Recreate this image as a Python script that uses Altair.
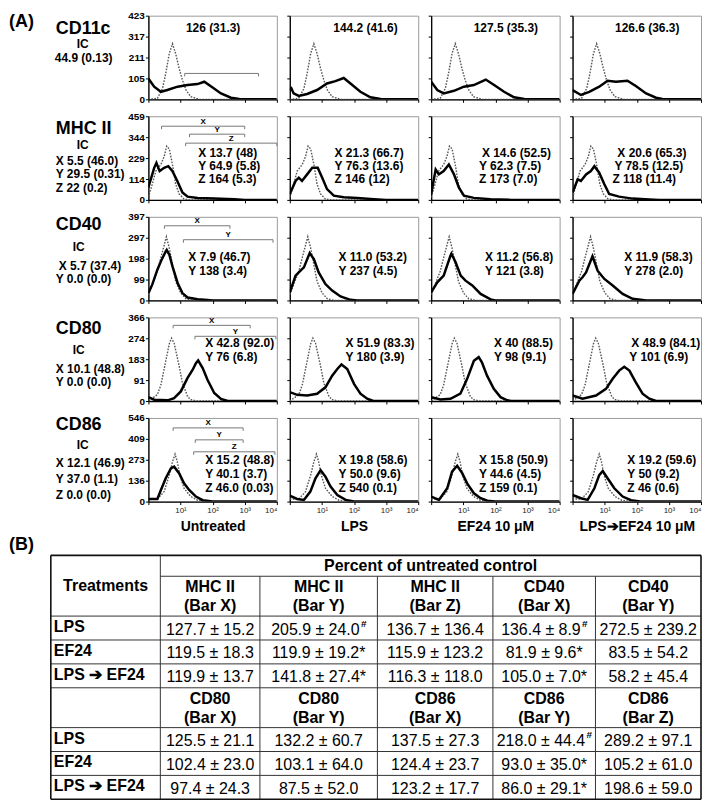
import altair as alt
import pandas as pd

# ---------------- data ----------------
markers = ["CD11c", "MHC II", "CD40", "CD80", "CD86"]
treatments = ["Untreated", "LPS", "EF24 10 μM", "LPS➔EF24 10 μM"]
y_max = [423, 459, 397, 366, 546]
y_tick_values = [
    [0, 105, 211, 317, 423],
    [0, 114, 229, 344, 459],
    [0, 99, 198, 297, 397],
    [0, 91, 183, 274, 366],
    [0, 136, 273, 409, 546],
]
ic_stats = [
    ["44.9 (0.13)"],
    ["X 5.5 (46.0)", "Y 29.5 (0.31)", "Z 22 (0.2)"],
    ["X 5.7 (37.4)", "Y 0.0 (0.0)"],
    ["X 10.1 (48.8)", "Y 0.0 (0.0)"],
    ["X 12.1 (46.9)", "Y 37.0 (1.1)", "Z 0.0 (0.0)"],
]
panel_stats = [
    [["126 (31.3)"], ["144.2 (41.6)"], ["127.5 (35.3)"], ["126.6 (36.3)"]],
    [["X 13.7 (48)", "Y 64.9 (5.8)", "Z 164 (5.3)"],
     ["X 21.3 (66.7)", "Y 76.3 (13.6)", "Z  146 (12)"],
     ["X 14.6 (52.5)", "Y 62.3 (7.5)", "Z  173 (7.0)"],
     ["X 20.6 (65.3)", "Y 78.5 (12.5)", "Z 118 (11.4)"]],
    [["X 7.9 (46.7)", "Y 138 (3.4)"], ["X 11.0 (53.2)", "Y 237 (4.5)"],
     ["X 11.2 (56.8)", "Y 121 (3.8)"], ["X 11.9 (58.3)", "Y 278 (2.0)"]],
    [["X 42.8 (92.0)", "Y 76 (6.8)"], ["X 51.9 (83.3)", "Y 180 (3.9)"],
     ["X 40 (88.5)", "Y 98 (9.1)"], ["X 48.9 (84.1)", "Y 101 (6.9)"]],
    [["X 15.2 (48.8)", "Y 40.1 (3.7)", "Z 46.0 (0.03)"],
     ["X 19.8 (58.6)", "Y 50.0 (9.6)", "Z 540 (0.1)"],
     ["X 15.8 (50.9)", "Y 44.6 (4.5)", "Z 159 (0.1)"],
     ["X 19.2 (59.6)", "Y 50 (9.2)", "Z 46 (0.6)"]],
]

# histograms: (log10 fluorescence, cell count)
ic_curves = [
    [(0, 0), (0.28, 5), (0.44, 55), (0.54, 130), (0.65, 231), (0.75, 281), (0.85, 231),
     (0.96, 155), (1.06, 97), (1.17, 47), (1.32, 13), (1.6, 0), (4, 0)],
    [(0, 14), (0.12, 86), (0.23, 158), (0.39, 194), (0.49, 238), (0.57, 295), (0.65, 280),
     (0.75, 194), (0.85, 86), (0.96, 32), (1.11, 5), (1.3, 0), (4, 0)],
    [(0, 27), (0.28, 138), (0.44, 233), (0.56, 302), (0.65, 249), (0.75, 170), (0.85, 90),
     (1.01, 35), (1.17, 8), (1.4, 0), (4, 0)],
    [(0, 0), (0.28, 28), (0.39, 71), (0.55, 181), (0.65, 250), (0.72, 275), (0.8, 254),
     (0.96, 152), (1.06, 79), (1.22, 20), (1.32, 6), (1.5, 0), (4, 0)],
    [(0, 17), (0.28, 17), (0.49, 65), (0.65, 173), (0.75, 260), (0.83, 310), (0.9, 260),
     (0.98, 173), (1.11, 87), (1.32, 33), (1.53, 9), (1.8, 0), (4, 0)],
]
sample_curves = [
    [
        [(0, 105), (0.18, 64), (0.39, 38), (0.59, 47), (0.91, 64), (1.22, 72), (1.53, 77), (1.74, 89),
         (2.0, 60), (2.26, 30), (2.57, 8), (2.83, 2), (3.0, 0), (4, 0)],
        [(0, 47), (0.05, 55), (0.12, 30), (0.28, 17), (0.54, 27), (0.85, 47), (1.16, 80), (1.42, 92),
         (1.68, 108), (1.89, 80), (2.2, 38), (2.51, 10), (2.83, 2), (3.0, 0), (4, 0)],
        [(0, 89), (0.19, 47), (0.39, 30), (0.71, 43), (1.02, 64), (1.33, 72), (1.7, 100), (1.96, 72),
         (2.27, 38), (2.58, 10), (2.9, 2), (3.1, 0), (4, 0)],
        [(0, 47), (0.26, 22), (0.52, 38), (0.83, 64), (1.09, 94), (1.35, 89), (1.71, 94), (1.97, 67),
         (2.29, 30), (2.6, 8), (2.8, 2), (3.0, 0), (4, 0)],
    ],
    [
        [(0, 68), (0.18, 176), (0.25, 203), (0.35, 158), (0.49, 176), (0.62, 185), (0.75, 158),
         (0.9, 104), (1.06, 41), (1.22, 18), (1.53, 11), (2.05, 7), (2.68, 4), (3.0, 0), (4, 0)],
        [(0, 32), (0.18, 104), (0.28, 122), (0.38, 104), (0.54, 140), (0.7, 176), (0.87, 176),
         (1.01, 122), (1.16, 59), (1.37, 23), (1.68, 14), (2.1, 11), (2.62, 4), (3.0, 0), (4, 0)],
        [(0, 32), (0.14, 167), (0.24, 140), (0.39, 158), (0.55, 194), (0.71, 140), (0.86, 68),
         (1.02, 23), (1.33, 11), (1.85, 4), (2.5, 0), (4, 0)],
        [(0, 41), (0.16, 113), (0.26, 104), (0.42, 140), (0.57, 158), (0.68, 185), (0.83, 149),
         (0.99, 86), (1.14, 32), (1.45, 18), (1.87, 7), (2.39, 2), (2.7, 0), (4, 0)],
    ],
    [
        [(0, 35), (0.12, 75), (0.28, 146), (0.39, 186), (0.54, 233), (0.57, 240), (0.65, 218),
         (0.75, 162), (0.91, 83), (1.06, 35), (1.22, 14), (1.53, 6), (1.84, 2), (2.0, 0), (4, 0)],
        [(0, 39), (0.18, 118), (0.28, 133), (0.44, 157), (0.62, 225), (0.75, 196), (0.9, 133),
         (1.11, 78), (1.32, 47), (1.58, 19), (1.89, 3), (2.1, 0), (4, 0)],
        [(0, 39), (0.19, 86), (0.39, 118), (0.6, 212), (0.63, 222), (0.76, 181), (0.92, 118),
         (1.07, 94), (1.28, 71), (1.54, 31), (1.85, 5), (2.0, 0), (4, 0)],
        [(0, 31), (0.21, 94), (0.31, 110), (0.42, 133), (0.62, 210), (0.78, 141), (0.99, 102),
         (1.25, 71), (1.56, 31), (1.87, 8), (2.3, 0), (4, 0)],
    ],
    [
        [(0, 17), (0.18, 6), (0.6, 3), (0.8, 13), (1.01, 42), (1.22, 101), (1.38, 137), (1.48, 166),
         (1.55, 178), (1.69, 144), (1.84, 93), (2.05, 35), (2.26, 9), (2.47, 0), (4, 0)],
        [(0, 39), (0.23, 27), (0.54, 24), (0.85, 32), (1.11, 60), (1.32, 111), (1.48, 140),
         (1.61, 160), (1.79, 140), (2.0, 75), (2.2, 32), (2.41, 10), (2.6, 0), (4, 0)],
        [(0, 17), (0.29, 7), (0.6, 10), (0.91, 32), (1.12, 97), (1.33, 176), (1.48, 192),
         (1.58, 169), (1.74, 111), (1.95, 53), (2.16, 17), (2.37, 3), (2.5, 0), (4, 0)],
        [(0, 24), (0.31, 10), (0.73, 24), (1.04, 53), (1.25, 97), (1.45, 133), (1.61, 150),
         (1.77, 133), (1.97, 82), (2.18, 32), (2.39, 10), (2.6, 0), (4, 0)],
    ],
    [
        [(0, 17), (0.28, 17), (0.39, 76), (0.54, 152), (0.7, 217), (0.8, 228), (0.96, 184),
         (1.11, 119), (1.27, 76), (1.48, 33), (1.69, 9), (2.0, 0), (4, 0)],
        [(0, 39), (0.23, 17), (0.44, 11), (0.64, 65), (0.8, 152), (0.96, 205), (1.11, 163),
         (1.27, 98), (1.48, 43), (1.74, 11), (2.0, 0), (4, 0)],
        [(0, 33), (0.24, 11), (0.5, 87), (0.65, 195), (0.81, 234), (0.97, 184), (1.12, 119),
         (1.33, 54), (1.54, 22), (1.75, 6), (2.0, 0), (4, 0)],
        [(0, 43), (0.26, 22), (0.47, 11), (0.68, 87), (0.83, 173), (0.94, 200), (1.09, 152),
         (1.3, 87), (1.56, 33), (1.82, 9), (2.1, 0), (4, 0)],
    ],
]
# gates drawn as brackets in the untreated panels (name, from log10, to log10)
gates = [
    [("", 1.13, 3.43)],
    [("X", 0.41, 3.0), ("Y", 1.28, 3.0), ("Z", 1.16, 4.0)],
    [("X", 0.5, 2.54), ("Y", 1.09, 3.88)],
    [("X", 0.77, 3.17), ("Y", 1.45, 3.97)],
    [("X", 0.77, 2.95), ("Y", 1.46, 2.95), ("Z", 1.41, 3.94)],
]

# table (B)
table_head_top = [("MHC II", "(Bar X)"), ("MHC II", "(Bar Y)"), ("MHC II", "(Bar Z)"),
                  ("CD40", "(Bar X)"), ("CD40", "(Bar Y)")]
table_head_bottom = [("CD80", "(Bar X)"), ("CD80", "(Bar Y)"), ("CD86", "(Bar X)"),
                     ("CD86", "(Bar Y)"), ("CD86", "(Bar Z)")]
table_rows = ["LPS", "EF24", "LPS ➔ EF24"]
top_mean = [[127.7, 205.9, 136.7, 136.4, 272.5], [119.5, 119.9, 115.9, 81.9, 83.5],
            [119.9, 141.8, 116.3, 105.0, 58.2]]
top_sd = [[15.2, 24.0, 136.4, 8.9, 239.2], [18.3, 19.2, 123.2, 9.6, 54.2],
          [13.7, 27.4, 118.0, 7.0, 45.4]]
top_flag = [["", "#", "", "#", ""], ["", "*", "", "*", ""], ["", "*", "", "*", ""]]
bottom_mean = [[125.5, 132.2, 137.5, 218.0, 289.2], [102.4, 103.1, 124.4, 93.0, 105.2],
               [97.4, 87.5, 123.2, 86.0, 198.6]]
bottom_sd = [[21.1, 60.7, 27.3, 44.4, 97.1], [23.0, 64.0, 23.7, 35.0, 61.0],
             [24.3, 52.0, 17.7, 29.1, 59.0]]
bottom_flag = [["", "", "", "#", ""], ["", "", "", "*", ""], ["", "", "", "*", ""]]

# ---------------- layout (pixels) ----------------
FONT = "Liberation Sans"
PW, PH = 129, 84
LW = 127
gate_y_px = [[58], [10, 18, 27], [9, 23], [8, 19], [10, 22, 34]]
stat_x_px = [
    [[65], [76], [75], [75]],
    [[50, 50, 50], [45, 45, 45], [51, 48, 48], [45, 42, 40]],
    [[40, 40], [49, 49], [54, 54], [52, 52]],
    [[57, 57], [56, 56], [63, 63], [59, 57]],
    [[57, 57, 57], [49, 49, 49], [48, 48, 48], [55, 55, 55]],
]
stat_y_px = [[12], [37, 50, 63], [40, 54], [26, 40], [42, 56, 70]]
name_y_px = [13, 13, 8, 12, 7]
ic_x_px = [68, 68, 64, 64, 68]
ic_y_px = [28, 29, 30, 33, 27]
ic_val_x_px = [[46], [47, 47, 47], [50, 47], [47, 47], [47, 47, 47]]
ic_val_y_px = [[43], [45, 58, 72], [49, 62], [52, 65], [45, 61, 77]]

LABEL_EXPR = ("datum.value == 1 ? '10¹' : datum.value == 2 ? '10²' : "
              "datum.value == 3 ? '10³' : datum.value == 4 ? '10⁴' : ''")


def label_chart(r):
    rows = []
    if r == 0:
        rows.append({"x": 0, "y": 6, "t": "(A)", "s": 18})
    rows.append({"x": 47, "y": name_y_px[r], "t": markers[r], "s": 18})
    rows.append({"x": ic_x_px[r], "y": ic_y_px[r], "t": "IC", "s": 12})
    for i, t in enumerate(ic_stats[r]):
        rows.append({"x": ic_val_x_px[r][i], "y": ic_val_y_px[r][i], "t": t, "s": 12})
    return alt.Chart(pd.DataFrame(rows)).mark_text(
        align="left", baseline="middle", fontWeight="bold", color="black", font=FONT
    ).encode(
        x=alt.X("x:Q", scale=alt.Scale(domain=[0, LW], nice=False, zero=False), axis=None),
        y=alt.Y("y:Q", scale=alt.Scale(domain=[0, PH], nice=False, reverse=True), axis=None),
        text="t:N",
        size=alt.Size("s:Q", scale=None, legend=None),
    ).properties(width=LW, height=PH, view=alt.ViewBackground(stroke="transparent"))


def panel(r, c):
    ymax = y_max[r]
    if r == 4:
        xaxis = alt.Axis(values=[0, 1, 2, 3, 4], labelExpr=LABEL_EXPR, labelFontSize=8,
                         labelColor="#222", labelPadding=2, title=treatments[c],
                         titleFontSize=14, titleFontWeight="bold", titleColor="black",
                         titlePadding=5)
    else:
        xaxis = alt.Axis(values=[0, 1, 2, 3, 4], labels=False, title=None)
    if c == 0:
        yaxis = alt.Axis(values=y_tick_values[r], labelFontSize=10, labelFontWeight="bold",
                         labelColor="black", labelPadding=1, title=None)
    else:
        yaxis = alt.Axis(values=y_tick_values[r], labels=False, title=None)
    xenc = alt.X("x:Q", scale=alt.Scale(domain=[0, 4], nice=False, zero=False), axis=xaxis)
    yenc = alt.Y("y:Q", scale=alt.Scale(domain=[0, ymax], nice=False), axis=yaxis)

    ic = pd.DataFrame(ic_curves[r], columns=["x", "y"])
    smp = pd.DataFrame(sample_curves[r][c], columns=["x", "y"])
    layers = [
        alt.Chart(ic).mark_line(color="#555", strokeWidth=1.4, strokeDash=[1.6, 1.4],
                                clip=True).encode(x=xenc, y=yenc),
        alt.Chart(smp).mark_line(color="black", strokeWidth=2.5, clip=True).encode(x=xenc, y=yenc),
    ]
    st = []
    for i, t in enumerate(panel_stats[r][c]):
        st.append({"x": stat_x_px[r][c][i] / PW * 4,
                   "y": (PH - stat_y_px[r][i]) / PH * ymax, "t": t})
    layers.append(alt.Chart(pd.DataFrame(st)).mark_text(
        align="center" if r == 0 else "left", baseline="middle", fontSize=12,
        fontWeight="bold", color="black", font=FONT).encode(x=xenc, y=yenc, text="t:N"))

    if c == 0:
        hr, vt, lb = [], [], []
        tick = 3 / PH * ymax
        for (name, g1, g2), ypx in zip(gates[r], gate_y_px[r]):
            yv = (PH - ypx) / PH * ymax
            hr.append({"x": g1, "x2": g2, "y": yv})
            vt.append({"x": g1, "y": yv, "y2": yv - tick})
            vt.append({"x": g2, "y": yv, "y2": yv - tick})
            if name:
                lb.append({"x": (g1 + g2) / 2, "y": yv + 4.5 / PH * ymax, "t": name})
        layers.append(alt.Chart(pd.DataFrame(hr)).mark_rule(color="#777", strokeWidth=1).encode(
            x=xenc, x2="x2:Q", y=yenc))
        layers.append(alt.Chart(pd.DataFrame(vt)).mark_rule(color="#777", strokeWidth=1).encode(
            x=xenc, y=yenc, y2="y2:Q"))
        if lb:
            layers.append(alt.Chart(pd.DataFrame(lb)).mark_text(
                fontSize=8, fontWeight="bold", color="black", baseline="middle", font=FONT
            ).encode(x=xenc, y=yenc, text="t:N"))
    return alt.layer(*layers).properties(width=PW, height=PH)


# ---------------- table ----------------
TW = 695
col_edges = [42, 152, 252, 370, 486, 589, 695]
T0 = 20
PCT_H, HEAD_H, DATA_H = 21, 40, 24

y = T0
pct_top = y; y += PCT_H
head1_top = y; y += HEAD_H
data1_tops = []
for _ in range(3):
    data1_tops.append(y); y += DATA_H
head2_top = y; y += HEAD_H
data2_tops = []
for _ in range(3):
    data2_tops.append(y); y += DATA_H
T_BOTTOM = y
TH = T_BOTTOM + 2

CW = {**{d: .556 for d in "0123456789"}, ".": .278, " ": .278, "±": .584, "*": .389, "#": .556}


def text_w(s, size):
    return sum(CW.get(ch, .556) for ch in s) * size


lines_inner = []
lines_inner.append({"x": col_edges[1], "x2": TW, "y": pct_top + PCT_H, "y2": pct_top + PCT_H})
for yy in [head1_top + HEAD_H] + [t + DATA_H for t in data1_tops] + [head2_top + HEAD_H] + \
        [t + DATA_H for t in data2_tops[:-1]]:
    lines_inner.append({"x": col_edges[0], "x2": TW, "y": yy, "y2": yy})
lines_inner.append({"x": col_edges[1], "x2": col_edges[1], "y": T0, "y2": T_BOTTOM})
for xe in col_edges[2:-1]:
    lines_inner.append({"x": xe, "x2": xe, "y": head1_top, "y2": T_BOTTOM})
border = [
    {"x": col_edges[0], "x2": TW, "y": T0, "y2": T0},
    {"x": col_edges[0], "x2": TW, "y": T_BOTTOM, "y2": T_BOTTOM},
    {"x": col_edges[0], "x2": col_edges[0], "y": T0, "y2": T_BOTTOM},
    {"x": TW, "x2": TW, "y": T0, "y2": T_BOTTOM},
]

bold_center = [
    {"x": (col_edges[1] + TW) / 2, "y": pct_top + PCT_H / 2 + 0.5, "t": "Percent of untreated control"},
    {"x": (col_edges[0] + col_edges[1]) / 2, "y": (T0 + head1_top + HEAD_H) / 2, "t": "Treatments"},
]
for top, heads in [(head1_top, table_head_top), (head2_top, table_head_bottom)]:
    for i, (a, b) in enumerate(heads):
        cx = (col_edges[i + 1] + col_edges[i + 2]) / 2
        bold_center.append({"x": cx, "y": top + 11, "t": a})
        bold_center.append({"x": cx, "y": top + 30, "t": b})
bold_left = [{"x": col_edges[0] + 3, "y": t + 11, "t": n}
             for tops in (data1_tops, data2_tops) for t, n in zip(tops, table_rows)]
vals, sups = [], []
for tops, means, sds, flags in [(data1_tops, top_mean, top_sd, top_flag),
                                (data2_tops, bottom_mean, bottom_sd, bottom_flag)]:
    for ri, t in enumerate(tops):
        for ci in range(5):
            cx = (col_edges[ci + 1] + col_edges[ci + 2]) / 2
            s = f"{means[ri][ci]:.1f} ± {sds[ri][ci]:.1f}"
            fl = flags[ri][ci]
            if fl == "*":
                s += "*"
            w = text_w(s, 16)
            sw = text_w("#", 10) + 1 if fl == "#" else 0
            mc = cx - sw / 2
            vals.append({"x": mc, "y": t + 13.5, "t": s})
            if fl == "#":
                sups.append({"x": mc + w / 2 + 1, "y": t + 7.5, "t": "#"})

tx = alt.X("x:Q", scale=alt.Scale(domain=[0, TW], nice=False, zero=False), axis=None)
ty = alt.Y("y:Q", scale=alt.Scale(domain=[0, TH], nice=False, reverse=True), axis=None)
table = alt.layer(
    alt.Chart(pd.DataFrame(lines_inner)).mark_rule(color="#333", strokeWidth=1).encode(
        x=tx, x2="x2:Q", y=ty, y2="y2:Q"),
    alt.Chart(pd.DataFrame(border)).mark_rule(color="#111", strokeWidth=1.6).encode(
        x=tx, x2="x2:Q", y=ty, y2="y2:Q"),
    alt.Chart(pd.DataFrame([{"x": 0, "y": 10, "t": "(B)"}])).mark_text(
        align="left", baseline="middle", fontSize=18, fontWeight="bold", color="black",
        font=FONT).encode(x=tx, y=ty, text="t:N"),
    alt.Chart(pd.DataFrame(bold_center)).mark_text(
        align="center", baseline="middle", fontSize=16, fontWeight="bold", color="black",
        font=FONT).encode(x=tx, y=ty, text="t:N"),
    alt.Chart(pd.DataFrame(bold_left)).mark_text(
        align="left", baseline="middle", fontSize=16, fontWeight="bold", color="black",
        font=FONT).encode(x=tx, y=ty, text="t:N"),
    alt.Chart(pd.DataFrame(vals)).mark_text(
        align="center", baseline="middle", fontSize=16, color="black",
        font=FONT).encode(x=tx, y=ty, text="t:N"),
    alt.Chart(pd.DataFrame(sups)).mark_text(
        align="left", baseline="middle", fontSize=10, fontWeight="bold", color="black",
        font=FONT).encode(x=tx, y=ty, text="t:N"),
).properties(width=TW, height=TH, view=alt.ViewBackground(stroke="transparent"))

# ---------------- assemble ----------------
cells = []
for r in range(5):
    cells.append(label_chart(r))
    cells.extend(panel(r, c) for c in range(4))
grid = alt.concat(*cells, columns=5, spacing={"row": 17, "column": 13},
                  bounds="flush", align="each")
chart = alt.vconcat(grid, table, spacing=0, padding=0)
chart = chart.configure_view(stroke="#9a9a9a", strokeWidth=1).configure_axis(
    domainColor="black", domainWidth=1.3, tickColor="black", tickSize=3, tickWidth=1,
    grid=False, labelFont=FONT, titleFont=FONT
).configure_text(font=FONT)

chart.save("out.html", embed_options={"renderer": "svg", "actions": False})
